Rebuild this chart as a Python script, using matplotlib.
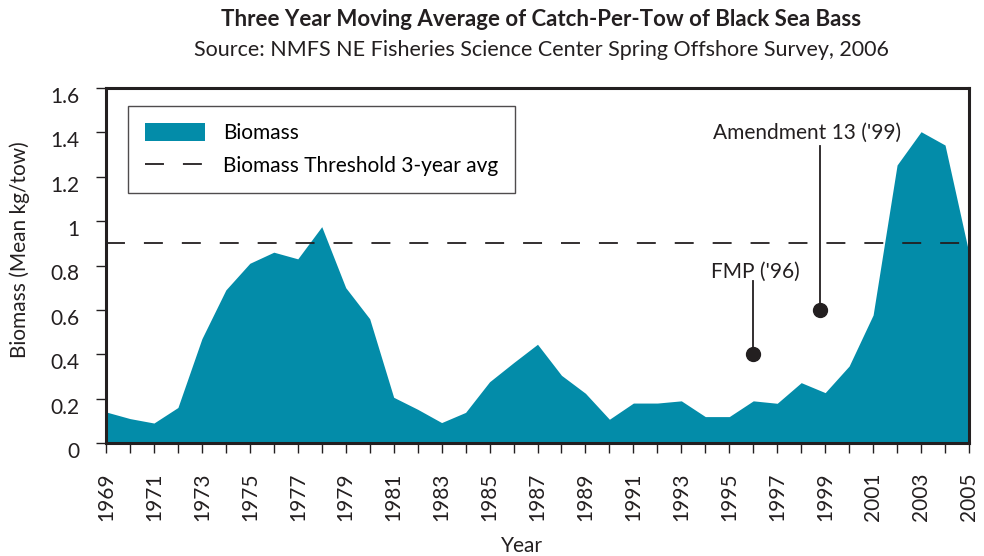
import numpy as np
import matplotlib.pyplot as plt
import matplotlib.transforms as mtransforms
from matplotlib.patches import Patch
from matplotlib.lines import Line2D

plt.rcParams['font.family'] = ['Lato', 'DejaVu Sans']

# three year moving average
years = list(range(1969, 2006))
biomass = [0.14, 0.11, 0.09, 0.16, 0.47, 0.69, 0.81, 0.86, 0.83, 0.975,
           0.70, 0.56, 0.206, 0.152, 0.092, 0.138, 0.276, 0.362, 0.445, 0.305,
           0.224, 0.107, 0.18, 0.18, 0.19, 0.119, 0.119, 0.19, 0.179, 0.272,
           0.227, 0.347, 0.577, 1.253, 1.403, 1.343, 0.855]
threshold = 0.9

# annotations: (label, dot x, dot value, line top, text x, text value)
notes = [("FMP ('96)", 1996.0, 0.40, 0.73, 1996.1, 0.77),
         ("Amendment 13 ('99)", 1998.8, 0.60, 1.34, 1998.25, 1.40)]

tick_years = list(range(1969, 2006, 2))
y_ticks = [0, 0.2, 0.4, 0.6, 0.8, 1.0, 1.2, 1.4, 1.6]
y_labels = ['0', '0.2', '0.4', '0.6', '0.8', '1', '1.2', '1.4', '1.6']

fill_color = '#038ca9'
ink = '#231f20'
dash = (0, (10.5, 10.5))

fig = plt.figure(figsize=(9.84, 5.56), dpi=100)
ax = fig.add_axes([106 / 984, 1 - 443 / 556, 863 / 984, 355 / 556])

ax.fill_between(years, biomass, 0, color=fill_color, lw=0, zorder=1)
ax.axhline(threshold, color=ink, lw=1.3, linestyle=dash, zorder=2)

for label, x, yd, ytop, xt, yt in notes:
    ax.plot([x, x], [yd, ytop], color=ink, lw=1.3, zorder=3)
    ax.plot(x, yd, 'o', color=ink, markersize=10, zorder=4)
    ax.text(xt, yt, label, ha='center', va='center', fontsize=15, color=ink)

ax.set_xlim(1969, 2005)
ax.set_ylim(0, 1.6)
ax.set_xticks(years, minor=True)
ax.set_xticks(tick_years)
ax.set_xticklabels([str(y) for y in tick_years], rotation=90, fontsize=15, color=ink)
ax.set_yticks(y_ticks)
ax.set_yticklabels(y_labels, fontsize=15, color=ink)
ax.tick_params(axis='x', which='both', direction='out', length=7.2, width=1, color=ink, pad=14)
ax.tick_params(axis='y', direction='out', length=7.2, width=1, color=ink, pad=12)
# y labels sit a little below their ticks in the original
shift = mtransforms.ScaledTranslation(0, -7 / 100, fig.dpi_scale_trans)
for lab in ax.get_yticklabels():
    lab.set_transform(lab.get_transform() + shift)
for s in ax.spines.values():
    s.set_linewidth(2.2)
    s.set_color(ink)

ax.set_xlabel('Year', fontsize=15, color=ink)
ax.set_ylabel('Biomass (Mean kg/tow)', fontsize=15, color=ink)
ax.xaxis.set_label_coords((522 - 106) / 863, (443 - 536) / 355)
ax.yaxis.set_label_coords((30 - 106) / 863, (443 - 250) / 355)

handles = [Patch(facecolor=fill_color, edgecolor='none', label='Biomass'),
           Line2D([0], [0], color=ink, lw=1.3, linestyle=dash,
                  label='Biomass Threshold 3-year avg')]
leg = ax.legend(handles=handles, loc='upper left',
                bbox_to_anchor=((128 - 106) / 863, (443 - 106) / 355),
                borderaxespad=0, fontsize=15, frameon=True, fancybox=False,
                handlelength=2.9, handleheight=1.0, borderpad=0.8,
                labelspacing=0.6, handletextpad=0.85)
leg.get_frame().set_edgecolor(ink)
leg.get_frame().set_linewidth(1)

fig.text(541 / 984, 1 - 20 / 556, 'Three Year Moving Average of Catch-Per-Tow of Black Sea Bass',
         ha='center', va='center', fontsize=16, fontweight='bold', color=ink)
fig.text(541 / 984, 1 - 50 / 556, 'Source: NMFS NE Fisheries Science Center Spring Offshore Survey, 2006',
         ha='center', va='center', fontsize=15.5, color=ink)

fig.savefig('out.png', dpi=100)
